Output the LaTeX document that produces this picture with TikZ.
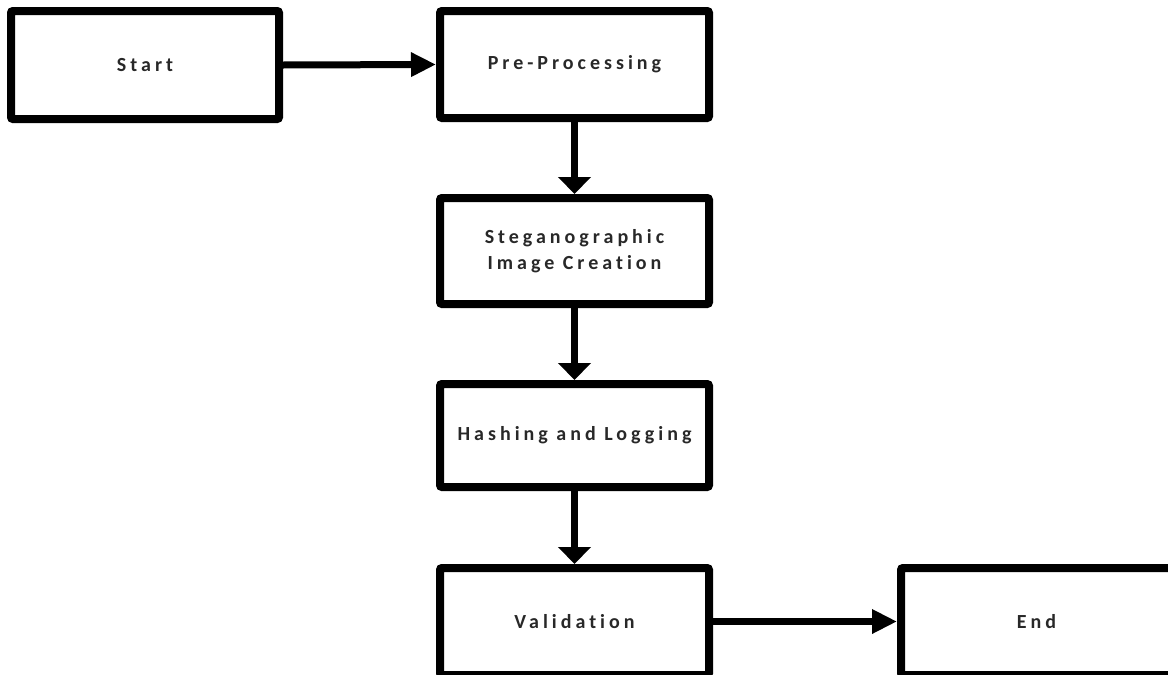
\documentclass[tikz,border=0pt]{standalone}
\usepackage{fontspec}
\setmainfont{Carlito}[LetterSpace=20,Ligatures={NoCommon}]
\usetikzlibrary{arrows.meta}
\definecolor{txt}{RGB}{40,40,40}
\begin{document}
\begin{tikzpicture}[x=1pt,y=-1pt,
  box/.style={draw=black,line width=8pt,rounded corners=2pt,minimum width=269pt,minimum height=107pt,inner sep=0pt,
    font=\fontsize{20}{26}\selectfont\bfseries,text=txt,align=center},
  harrow/.style={line width=7pt,-{Triangle[length=25pt,width=23pt]}},
  varrow/.style={line width=7pt,-{Triangle[length=17pt,width=32pt]}}]
\useasboundingbox (0,0) rectangle (1168,675);
\node[box,minimum width=268pt,minimum height=108pt] (start) at (145,65) {Start};
\node[box] (pre) at (574.5,64.5) {Pre-Processing};
\node[box,minimum height=106pt] (steg) at (574.5,251) {Steganographic\\Image Creation};
\node[box,minimum height=103pt] (hash) at (574.5,435.5) {Hashing and Logging};
\node[box] (val) at (574.5,621.5) {Validation};
\node[box,minimum width=271pt] (end) at (1036.5,621.5) {End};
\draw[harrow] (start.east) -- (pre.west);
\draw[varrow] (pre.south) -- (steg.north);
\draw[varrow] (steg.south) -- (hash.north);
\draw[varrow] (hash.south) -- (val.north);
\draw[harrow] (val.east) -- (end.west);
\end{tikzpicture}
\end{document}
